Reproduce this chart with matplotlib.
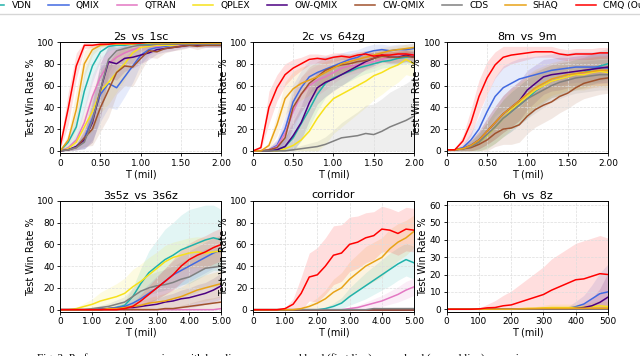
import matplotlib
matplotlib.use('Agg')
import matplotlib.pyplot as plt
import numpy as np

methods = ['VDN', 'QMIX', 'QTRAN', 'QPLEX', 'OW-QMIX', 'CW-QMIX', 'CDS', 'SHAQ', 'CMQ (Ours)']
colors = ['#20b2aa', '#4169e1', '#e377c2', '#f7e11b', '#4b0082', '#a0522d', '#808080', '#e8a317', '#ff0000']

# x grids (21 evaluation points)
t_2m = np.linspace(0, 2, 21)
t_5m = np.linspace(0, 5, 21)
t_500 = np.linspace(0, 500, 21)

# ---- 2s_vs_1sc ----
mean_2s = [
    [0, 8, 22, 55, 78, 91, 96, 97, 97, 98, 98, 98, 99, 99, 99, 99, 99, 99, 99, 99, 99],
    [0, 1, 4, 12, 30, 52, 62, 58, 68, 78, 88, 93, 95, 96, 97, 97, 98, 98, 98, 98, 98],
    [0, 3, 10, 26, 50, 68, 80, 86, 90, 93, 95, 96, 96, 97, 97, 97, 98, 98, 98, 98, 98],
    [0, 2, 8, 22, 36, 55, 63, 72, 80, 90, 95, 96, 97, 97, 97, 98, 98, 98, 98, 98, 98],
    [0, 1, 4, 10, 26, 56, 82, 80, 85, 86, 88, 90, 93, 94, 95, 96, 97, 97, 97, 97, 97],
    [0, 1, 3, 12, 20, 40, 56, 72, 78, 77, 85, 92, 91, 94, 95, 96, 97, 96, 97, 97, 97],
    [0, 1, 3, 8, 28, 56, 84, 92, 94, 96, 97, 97, 98, 98, 98, 98, 98, 98, 98, 98, 98],
    [0, 10, 38, 80, 93, 97, 98, 98, 98, 98, 99, 99, 99, 99, 99, 99, 99, 99, 99, 99, 99],
    [4, 39, 78, 97, 97, 98, 98, 99, 99, 99, 99, 100, 100, 100, 100, 100, 100, 100, 100, 100, 100],
]
std_2s = [
    [0, 5, 12, 18, 15, 8, 4, 3, 2, 2, 2, 2, 1, 1, 1, 1, 1, 1, 1, 1, 1],
    [0, 1, 3, 10, 20, 25, 22, 20, 18, 15, 8, 5, 3, 3, 2, 2, 2, 2, 2, 2, 2],
    [0, 2, 6, 15, 20, 18, 12, 8, 6, 4, 3, 3, 2, 2, 2, 2, 2, 2, 2, 2, 2],
    [0, 2, 5, 12, 18, 20, 20, 18, 15, 8, 4, 3, 3, 2, 2, 2, 2, 2, 2, 2, 2],
    [0, 1, 3, 8, 18, 25, 15, 15, 12, 10, 8, 6, 4, 3, 3, 2, 2, 2, 2, 2, 2],
    [0, 1, 2, 8, 15, 22, 25, 20, 18, 18, 12, 6, 6, 4, 3, 3, 2, 3, 2, 2, 2],
    [0, 1, 2, 6, 20, 25, 12, 6, 4, 3, 2, 2, 2, 2, 2, 2, 2, 2, 2, 2, 2],
    [0, 6, 18, 12, 5, 2, 2, 1, 1, 1, 1, 1, 1, 1, 1, 1, 1, 1, 1, 1, 1],
    [3, 15, 12, 3, 2, 2, 1, 1, 1, 1, 1, 1, 1, 1, 1, 1, 1, 1, 1, 1, 1],
]

# ---- 2c_vs_64zg ----
mean_2c = [
    [0, 0, 0, 1, 4, 12, 25, 38, 52, 62, 67, 70, 73, 76, 78, 80, 82, 83, 85, 86, 87],
    [0, 0, 1, 5, 20, 45, 58, 68, 72, 75, 78, 81, 84, 86, 90, 92, 93, 92, 93, 93, 94],
    [0, 0, 1, 4, 16, 36, 52, 60, 65, 68, 72, 76, 78, 79, 80, 82, 84, 86, 87, 88, 88],
    [0, 0, 0, 0, 2, 5, 10, 18, 30, 40, 48, 52, 56, 60, 64, 69, 72, 76, 79, 84, 80],
    [0, 0, 0, 1, 4, 14, 26, 44, 58, 63, 66, 70, 74, 78, 82, 85, 88, 86, 86, 88, 86],
    [0, 0, 1, 3, 12, 40, 52, 62, 68, 74, 77, 79, 80, 82, 83, 85, 87, 86, 86, 87, 86],
    [0, 0, 0, 0, 0, 1, 2, 3, 4, 6, 9, 12, 13, 14, 16, 15, 18, 22, 25, 28, 32],
    [0, 0, 5, 24, 48, 57, 62, 65, 68, 72, 76, 80, 82, 84, 86, 88, 90, 92, 93, 94, 95],
    [0, 3, 40, 58, 70, 76, 80, 84, 85, 84, 86, 87, 86, 88, 89, 87, 88, 88, 89, 89, 88],
]
std_2c = [
    [0, 0, 1, 3, 8, 14, 16, 16, 15, 13, 11, 10, 9, 8, 7, 7, 6, 6, 6, 6, 6],
    [0, 0, 2, 6, 12, 16, 16, 15, 14, 12, 10, 9, 8, 7, 6, 6, 5, 5, 5, 5, 5],
    [0, 0, 2, 6, 12, 16, 16, 15, 14, 12, 10, 9, 8, 7, 6, 6, 5, 5, 5, 5, 5],
    [0, 0, 0, 1, 4, 10, 20, 28, 32, 34, 32, 30, 28, 26, 24, 22, 20, 18, 16, 14, 12],
    [0, 0, 1, 3, 8, 14, 16, 16, 15, 13, 11, 10, 9, 8, 7, 7, 6, 6, 6, 6, 6],
    [0, 0, 2, 6, 12, 16, 16, 15, 14, 12, 10, 9, 8, 7, 6, 6, 5, 5, 5, 5, 5],
    [0, 0, 0, 0, 1, 2, 3, 4, 5, 7, 10, 14, 18, 22, 26, 28, 30, 32, 33, 34, 35],
    [0, 0, 3, 10, 15, 16, 15, 14, 12, 10, 9, 8, 7, 6, 6, 5, 5, 4, 4, 4, 4],
    [0, 2, 15, 12, 10, 8, 6, 5, 4, 4, 4, 3, 3, 3, 3, 3, 3, 3, 3, 3, 3],
]

# ---- 8m_vs_9m ----
mean_8m = [
    [1, 1, 2, 4, 8, 14, 22, 30, 36, 42, 48, 55, 60, 64, 66, 68, 70, 72, 75, 78, 80],
    [1, 1, 3, 10, 20, 36, 50, 58, 62, 66, 68, 70, 72, 74, 75, 76, 77, 77, 77, 77, 76],
    [1, 1, 2, 5, 10, 18, 26, 34, 40, 46, 52, 56, 60, 64, 66, 68, 70, 71, 72, 73, 74],
    [1, 1, 2, 4, 8, 14, 22, 30, 38, 44, 50, 56, 60, 64, 66, 68, 70, 70, 72, 73, 72],
    [1, 1, 2, 5, 10, 18, 26, 34, 40, 46, 56, 62, 68, 70, 71, 72, 73, 74, 75, 76, 77],
    [1, 1, 2, 3, 6, 10, 16, 20, 21, 24, 32, 38, 42, 45, 50, 53, 58, 62, 64, 66, 67],
    [1, 1, 2, 4, 8, 15, 22, 30, 36, 42, 48, 52, 56, 60, 63, 65, 67, 68, 69, 70, 70],
    [1, 1, 2, 5, 10, 18, 26, 34, 40, 46, 52, 58, 62, 66, 68, 70, 71, 72, 73, 74, 74],
    [1, 1, 9, 26, 50, 67, 79, 86, 88, 89, 90, 91, 91, 91, 89, 88, 89, 89, 89, 90, 90],
]
std_8m = [
    [1, 1, 2, 5, 8, 12, 15, 17, 18, 18, 18, 17, 16, 15, 15, 14, 14, 14, 14, 14, 14],
    [1, 1, 3, 7, 12, 16, 18, 20, 20, 19, 18, 17, 16, 15, 15, 14, 14, 14, 14, 14, 14],
    [1, 1, 2, 5, 8, 12, 15, 17, 18, 18, 18, 17, 16, 15, 15, 14, 14, 14, 14, 14, 14],
    [1, 1, 2, 5, 8, 12, 15, 17, 18, 18, 18, 17, 16, 15, 15, 14, 14, 14, 14, 14, 14],
    [1, 1, 2, 5, 8, 12, 15, 17, 18, 18, 18, 17, 16, 15, 15, 14, 14, 14, 14, 14, 14],
    [1, 1, 2, 4, 6, 10, 12, 14, 15, 16, 16, 16, 16, 15, 15, 14, 14, 14, 14, 14, 14],
    [1, 1, 2, 5, 8, 12, 15, 17, 18, 18, 18, 17, 16, 15, 15, 14, 14, 14, 14, 14, 14],
    [1, 1, 2, 5, 8, 12, 15, 17, 18, 18, 18, 17, 16, 15, 15, 14, 14, 14, 14, 14, 14],
    [1, 1, 5, 12, 15, 15, 12, 10, 8, 7, 6, 5, 5, 5, 5, 5, 5, 5, 5, 5, 5],
]

# ---- 3s5z_vs_3s6z ----
mean_3s = [
    [0, 0, 0, 0, 0, 0, 1, 2, 4, 12, 24, 34, 40, 46, 50, 55, 58, 61, 64, 66, 64],
    [0, 0, 0, 0, 0, 1, 1, 2, 3, 6, 10, 15, 20, 26, 32, 36, 40, 44, 48, 52, 55],
    [0, 0, 0, 0, 0, 0, 0, 0, 0, 0, 0, 0, 0, 0, 0, 0, 0, 0, 0, 0, 1],
    [0, 0, 1, 3, 5, 8, 10, 12, 15, 21, 26, 32, 38, 44, 48, 50, 52, 53, 52, 53, 54],
    [0, 0, 0, 0, 0, 0, 1, 1, 2, 2, 3, 4, 5, 7, 8, 10, 11, 13, 15, 18, 22],
    [0, 0, 0, 0, 0, 0, 0, 0, 0, 0, 0, 0, 0, 1, 1, 2, 3, 4, 5, 6, 7],
    [0, 0, 0, 0, 1, 2, 3, 5, 7, 12, 17, 20, 22, 23, 25, 28, 30, 34, 38, 39, 40],
    [0, 0, 0, 0, 0, 0, 1, 1, 2, 3, 4, 6, 7, 8, 10, 12, 15, 18, 20, 22, 24],
    [0, 0, 0, 0, 0, 0, 0, 0, 1, 3, 8, 14, 20, 26, 32, 40, 46, 50, 53, 57, 60],
]
std_3s = [
    [0, 0, 0, 0, 0, 0, 1, 2, 4, 8, 14, 20, 24, 28, 30, 32, 34, 33, 32, 30, 28],
    [0, 0, 0, 0, 0, 1, 1, 2, 3, 5, 7, 9, 11, 12, 13, 14, 14, 14, 14, 14, 14],
    [0, 0, 0, 0, 0, 0, 0, 0, 0, 0, 0, 0, 0, 0, 0, 0, 0, 0, 0, 0, 1],
    [0, 0, 1, 3, 5, 8, 10, 12, 14, 16, 16, 16, 15, 15, 14, 14, 14, 14, 14, 14, 14],
    [0, 0, 0, 0, 0, 0, 1, 1, 2, 2, 3, 4, 5, 6, 7, 8, 9, 10, 10, 11, 12],
    [0, 0, 0, 0, 0, 0, 0, 0, 0, 0, 0, 0, 0, 1, 1, 2, 3, 4, 5, 5, 6],
    [0, 0, 0, 0, 1, 2, 3, 4, 5, 8, 10, 12, 13, 14, 15, 16, 17, 18, 18, 18, 18],
    [0, 0, 0, 0, 0, 0, 1, 1, 2, 3, 4, 5, 6, 7, 8, 9, 10, 11, 12, 12, 12],
    [0, 0, 0, 0, 0, 0, 0, 0, 1, 3, 6, 8, 10, 12, 14, 15, 15, 15, 15, 15, 15],
]

# ---- corridor ----
mean_cor = [
    [0, 0, 0, 0, 0, 0, 0, 0, 0, 1, 3, 6, 12, 17, 22, 27, 32, 37, 42, 46, 43],
    [0, 0, 0, 0, 0, 0, 0, 0, 0, 0, 0, 0, 0, 0, 0, 0, 0, 0, 0, 0, 0],
    [0, 0, 0, 0, 0, 0, 0, 0, 0, 0, 0, 0, 1, 2, 4, 6, 8, 11, 14, 18, 21],
    [0, 0, 0, 0, 0, 0, 0, 0, 0, 0, 0, 0, 0, 0, 0, 0, 0, 0, 0, 0, 0],
    [0, 0, 0, 0, 0, 0, 0, 0, 0, 0, 0, 0, 0, 0, 0, 0, 0, 0, 0, 0, 0],
    [0, 0, 0, 0, 0, 0, 0, 0, 0, 0, 0, 0, 0, 0, 0, 0, 0, 0, 0, 0, 0],
    [0, 0, 0, 0, 0, 0, 0, 0, 0, 0, 0, 0, 0, 0, 0, 1, 1, 1, 1, 1, 1],
    [0, 0, 0, 0, 0, 0, 1, 3, 6, 10, 16, 20, 28, 34, 40, 44, 48, 56, 62, 66, 72],
    [0, 0, 0, 0, 1, 5, 15, 30, 32, 40, 50, 52, 60, 62, 66, 68, 74, 73, 70, 74, 73],
]
std_cor = [
    [0, 0, 0, 0, 0, 0, 0, 0, 0, 1, 3, 5, 8, 10, 12, 13, 14, 15, 15, 15, 15],
    [0, 0, 0, 0, 0, 0, 0, 0, 0, 0, 0, 0, 0, 0, 0, 0, 0, 0, 0, 0, 0],
    [0, 0, 0, 0, 0, 0, 0, 0, 0, 0, 0, 0, 1, 2, 3, 4, 5, 6, 7, 8, 8],
    [0, 0, 0, 0, 0, 0, 0, 0, 0, 0, 0, 0, 0, 0, 0, 0, 0, 0, 0, 0, 0],
    [0, 0, 0, 0, 0, 0, 0, 0, 0, 0, 0, 0, 0, 0, 0, 0, 0, 0, 0, 0, 0],
    [0, 0, 0, 0, 0, 0, 0, 0, 0, 0, 0, 0, 0, 0, 0, 0, 0, 0, 0, 0, 0],
    [0, 0, 0, 0, 0, 0, 0, 0, 0, 0, 0, 0, 0, 0, 0, 1, 1, 1, 1, 1, 1],
    [0, 0, 0, 0, 0, 0, 1, 3, 5, 8, 12, 14, 16, 17, 18, 18, 18, 18, 17, 16, 15],
    [0, 0, 0, 0, 1, 5, 15, 22, 25, 26, 27, 26, 25, 24, 23, 22, 21, 20, 20, 20, 20],
]

# ---- 6h_vs_8z ----
mean_6h = [
    [0, 0, 0, 0, 0, 0, 0, 0, 0, 0, 0, 0, 0, 0, 0, 0, 0, 0, 0, 0, 0],
    [0, 0, 0, 0, 0, 0, 0, 0, 0, 0, 0, 0, 0, 0, 0, 0.5, 1.5, 3, 6, 9, 10],
    [0, 0, 0, 0, 0, 0, 0, 0, 0, 0, 0, 0, 0, 0, 0, 0, 0, 0, 0, 0, 0],
    [0, 0, 0, 0, 0, 0, 0, 0, 0, 0.3, 0.5, 0.5, 0.8, 1, 1, 1, 1, 1.2, 1.5, 2, 1.5],
    [0, 0, 0, 0, 0, 0, 0, 0, 0, 0, 0, 0, 0, 0, 0, 0, 0.5, 1, 2, 4, 7],
    [0, 0, 0, 0, 0, 0, 0, 0, 0, 0, 0, 0, 0, 0, 0, 0, 0, 0, 0, 0, 0],
    [0, 0, 0, 0, 0, 0, 0, 0, 0, 0, 0, 0, 0, 0, 0, 0, 0, 0, 0, 0, 0],
    [0, 0, 0, 0, 0, 0, 0, 0, 0, 0.2, 0.3, 0.4, 0.5, 0.5, 0.5, 0.5, 0.6, 0.6, 0.6, 0.6, 0.6],
    [0, 0, 0, 0, 0.2, 0.8, 1, 2, 2.5, 4, 5.5, 7, 8.5, 11, 13, 15, 17, 17.5, 19, 20.5, 20],
]
std_6h = [
    [0, 0, 0, 0, 0, 0, 0, 0, 0, 0, 0, 0, 0, 0, 0, 0, 0, 0, 0, 0, 0],
    [0, 0, 0, 0, 0, 0, 0, 0, 0, 0, 0, 0, 0, 0, 0, 1, 3, 5, 8, 12, 16],
    [0, 0, 0, 0, 0, 0, 0, 0, 0, 0, 0, 0, 0, 0, 0, 0, 0, 0, 0, 0, 0],
    [0, 0, 0, 0, 0, 0, 0, 0, 0, 0.5, 1, 1, 1.5, 2, 2, 2, 2, 2, 2.5, 3, 3],
    [0, 0, 0, 0, 0, 0, 0, 0, 0, 0, 0, 0, 0, 0, 0, 0, 1, 2, 4, 8, 14],
    [0, 0, 0, 0, 0, 0, 0, 0, 0, 0, 0, 0, 0, 0, 0, 0, 0, 0, 0, 0, 0],
    [0, 0, 0, 0, 0, 0, 0, 0, 0, 0, 0, 0, 0, 0, 0, 0, 0, 0, 0, 0, 0],
    [0, 0, 0, 0, 0, 0, 0, 0, 0, 0.5, 0.5, 0.8, 1, 1, 1, 1, 1, 1, 1, 1, 1],
    [0, 0, 0, 0, 0.5, 2, 4, 6, 8, 10, 12, 14, 16, 18, 19, 20, 21, 22, 22, 22, 21],
]

xticks_2m = [0, 0.5, 1.0, 1.5, 2.0]
xlabels_2m = ['0', '0.50', '1.00', '1.50', '2.00']
xticks_5m = [0, 1, 2, 3, 4, 5]
xlabels_5m = ['0', '1.00', '2.00', '3.00', '4.00', '5.00']
xticks_500 = [0, 100, 200, 300, 400, 500]
xlabels_500 = ['0', '100', '200', '300', '400', '500']

panels = [
    ('2s_vs_1sc', t_2m, mean_2s, std_2s, xticks_2m, xlabels_2m, (-2, 100), [0, 20, 40, 60, 80, 100]),
    ('2c_vs_64zg', t_2m, mean_2c, std_2c, xticks_2m, xlabels_2m, (-2, 100), [0, 20, 40, 60, 80, 100]),
    ('8m_vs_9m', t_2m, mean_8m, std_8m, xticks_2m, xlabels_2m, (-2, 100), [0, 20, 40, 60, 80, 100]),
    ('3s5z_vs_3s6z', t_5m, mean_3s, std_3s, xticks_5m, xlabels_5m, (-2, 100), [0, 20, 40, 60, 80, 100]),
    ('corridor', t_5m, mean_cor, std_cor, xticks_5m, xlabels_5m, (-2, 100), [0, 20, 40, 60, 80, 100]),
    ('6h_vs_8z', t_500, mean_6h, std_6h, xticks_500, xlabels_500, (-1.5, 62.5), [0, 10, 20, 30, 40, 50, 60]),
]

fig = plt.figure(figsize=(6.4, 3.56), dpi=100)
lefts = [0.094, 0.395, 0.698]
bottoms = [0.570, 0.124]
w, h = 0.252, 0.312

handles = []
for k, (title, x, means, stds, xt, xl, yl, yt) in enumerate(panels):
    ax = fig.add_axes([lefts[k % 3], bottoms[k // 3], w, h])
    for i, m in enumerate(methods):
        mu = np.array(means[i], dtype=float)
        sd = np.array(stds[i], dtype=float)
        ax.fill_between(x, np.clip(mu - sd, 0, 100), np.clip(mu + sd, 0, 100),
                        color=colors[i], alpha=0.13, linewidth=0)
        ln, = ax.plot(x, mu, color=colors[i], linewidth=1.1, label=m)
        if k == 0:
            handles.append(ln)
    ax.set_xlim(x[0], x[-1])
    ax.set_ylim(*yl)
    ax.set_xticks(xt)
    ax.set_xticklabels(xl)
    ax.set_yticks(yt)
    ax.tick_params(labelsize=6.5, length=2.5, width=0.6, pad=1.5)
    ax.grid(True, linestyle='--', linewidth=0.5, color='#dddddd')
    ax.set_title(title, fontsize=8, pad=2)
    ax.set_xlabel('T (mil)', fontsize=7, labelpad=1)
    ax.set_ylabel('Test Win Rate %', fontsize=7, labelpad=1)
    for s in ax.spines.values():
        s.set_linewidth(0.7)

fig.legend(handles, methods, loc='center', bbox_to_anchor=(0.5, 0.985), ncol=9,
           fontsize=6.6, handlelength=2.2, handletextpad=0.8, columnspacing=1.85,
           frameon=True, edgecolor='#cccccc', borderpad=0.5)

fig.text(0.058, 1 - 353 / 356, 'Fig. 3: Performance comparison with baselines on easy and hard (first line), '
         'super hard (second line) scenarios.', family='Liberation Serif', fontsize=8, va='top', ha='left')

fig.savefig('out.png', dpi=100)
